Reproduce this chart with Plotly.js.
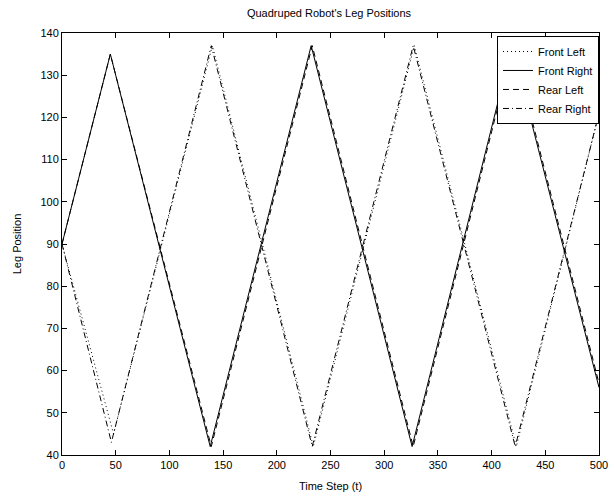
<!DOCTYPE html>
<html>
<head>
<meta charset="utf-8">
<script src="https://cdn.plot.ly/plotly-3.0.1.min.js"></script>
<style>html,body{margin:0;padding:0;background:#fff;}#chart{width:615px;height:497px;}</style>
</head>
<body>
<div id="chart"></div>
<script>
// Turning points of each leg trajectory (time step, position)
var frontLeftT  = [0, 48, 140, 234, 328, 423, 500];
var frontLeftV  = [90, 45, 137, 42, 137, 42, 121];
var frontRightT = [0, 45, 138, 232, 326, 419, 500];
var frontRightV = [90, 135, 42, 137, 42, 137, 56];
var rearLeftT   = [0, 45, 139, 233, 327, 420, 500];
var rearLeftV   = [90, 135, 42, 137, 42, 137, 57];
var rearRightT  = [0, 46, 139, 233, 327, 422, 500];
var rearRightV  = [90, 43, 137, 42, 137, 42, 121];
var seriesNames = ['Front Left', 'Front Right', 'Rear Left', 'Rear Right'];
var xTicks = [0, 50, 100, 150, 200, 250, 300, 350, 400, 450, 500];
var yTicks = [40, 50, 60, 70, 80, 90, 100, 110, 120, 130, 140];

var font = {family: 'Liberation Sans, Arial, sans-serif', size: 11, color: '#000'};
function tr(x, y, name, dash) {
  return {x: x, y: y, name: name, type: 'scatter', mode: 'lines',
          line: {color: '#000', width: 1, dash: dash}};
}
var data = [
  tr(frontLeftT, frontLeftV, seriesNames[0], '1px,3px'),
  tr(frontRightT, frontRightV, seriesNames[1], 'solid'),
  tr(rearLeftT, rearLeftV, seriesNames[2], '6px,4px'),
  tr(rearRightT, rearRightV, seriesNames[3], '6px,3px,1px,3px')
];
var axisCommon = {
  showgrid: false, zeroline: false, showline: true, linecolor: '#000', linewidth: 1,
  mirror: 'ticks', ticks: 'inside', ticklen: 5, tickcolor: '#000', tickfont: font
};
var layout = {
  width: 615, height: 497,
  margin: {l: 62, r: 16, t: 33, b: 42},
  paper_bgcolor: '#fff', plot_bgcolor: '#fff',
  font: font,
  title: {text: "Quadruped Robot's Leg Positions", font: {family: font.family, size: 11, color: '#000'},
          x: 0.535, xanchor: 'center', y: 0.982, yanchor: 'top'},
  xaxis: Object.assign({}, axisCommon, {range: [0, 500], tickvals: xTicks,
          title: {text: 'Time Step (t)', font: font, standoff: 12}}),
  yaxis: Object.assign({}, axisCommon, {range: [40, 140], tickvals: yTicks,
          title: {text: 'Leg Position', font: font, standoff: 16}}),
  showlegend: true,
  legend: {x: 1, xanchor: 'right', y: 0.993, yanchor: 'top', bgcolor: '#fff',
           bordercolor: '#000', borderwidth: 1, font: font, tracegroupgap: 0,
           itemwidth: 30}
};
Plotly.newPlot('chart', data, layout, {displayModeBar: false, staticPlot: true});
</script>
</body>
</html>
